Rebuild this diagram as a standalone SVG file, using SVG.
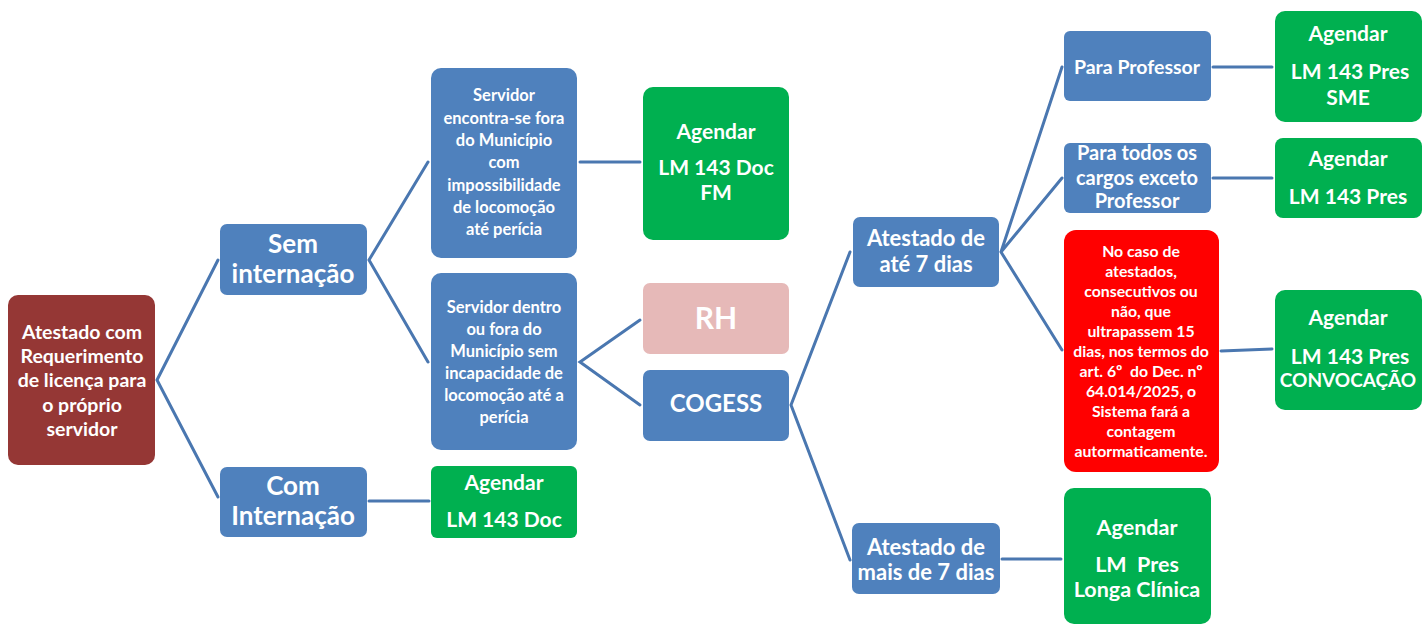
<svg xmlns="http://www.w3.org/2000/svg" width="1427" height="624" viewBox="0 0 1427 624">
<style>
.b{fill:#4f81bd}
.g{fill:#00b050}
.t{font-family:Lato,"Liberation Sans",sans-serif;font-weight:bold;fill:#fff;text-anchor:middle;white-space:pre}
.c{stroke:#4a77b0;stroke-width:3;fill:none;stroke-linecap:round}
</style>
<rect width="1427" height="624" fill="#fff"/>
<g id="connectors">
<polyline class="c" points="218,260 157,380 218,497"/>
<polyline class="c" points="428,162 369,260 428,362"/>
<line class="c" x1="369" y1="501" x2="429" y2="501"/>
<line class="c" x1="580" y1="162" x2="640" y2="162"/>
<polyline class="c" points="640,320 580,362 640,405"/>
<polyline class="c" points="850,252 791,405 850,560"/>
<polyline class="c" points="1062,67 1001,252 1062,178"/>
<line class="c" x1="1001" y1="252" x2="1062" y2="350"/>
<line class="c" x1="1213" y1="67" x2="1272" y2="67"/>
<line class="c" x1="1213" y1="178" x2="1272" y2="178"/>
<line class="c" x1="1221" y1="351" x2="1272" y2="349"/>
<line class="c" x1="1002" y1="559" x2="1061" y2="559"/>
</g>
<g id="root">
<rect x="8" y="295" width="147" height="170" rx="10" fill="#953735"/>
<text class="t" font-size="19.5"><tspan x="82" y="339">Atestado com</tspan><tspan x="82" y="363">Requerimento</tspan><tspan x="82" y="387">de licença para</tspan><tspan x="82" y="412">o próprio</tspan><tspan x="82" y="436">servidor</tspan></text>
</g>
<g id="sem">
<rect class="b" x="220" y="224" width="147" height="71" rx="7"/>
<text class="t" font-size="26"><tspan x="293" y="253">Sem</tspan><tspan x="293" y="283">internação</tspan></text>
</g>
<g id="com">
<rect class="b" x="220" y="467" width="147" height="70" rx="7"/>
<text class="t" font-size="26"><tspan x="293" y="495">Com</tspan><tspan x="293" y="525">Internação</tspan></text>
</g>
<g id="fora">
<rect class="b" x="431" y="68" width="146" height="190" rx="10"/>
<text class="t" font-size="16.5"><tspan x="504" y="101">Servidor</tspan><tspan x="504" y="124">encontra-se fora</tspan><tspan x="504" y="146">do Município</tspan><tspan x="504" y="168">com</tspan><tspan x="504" y="191">impossibilidade</tspan><tspan x="504" y="213">de locomoção</tspan><tspan x="504" y="235">até perícia</tspan></text>
</g>
<g id="dentro">
<rect class="b" x="431" y="273" width="146" height="177" rx="10"/>
<text class="t" font-size="16.5"><tspan x="504" y="313">Servidor dentro</tspan><tspan x="504" y="335">ou fora do</tspan><tspan x="504" y="357">Município sem</tspan><tspan x="504" y="379">incapacidade de</tspan><tspan x="504" y="401">locomoção até a</tspan><tspan x="504" y="423">perícia</tspan></text>
</g>
<g id="agfm">
<rect class="g" x="643" y="87" width="146" height="153" rx="10"/>
<text class="t" font-size="21"><tspan x="716" y="139">Agendar</tspan><tspan x="716" y="175">LM 143 Doc</tspan><tspan x="716" y="200">FM</tspan></text>
</g>
<g id="rh">
<rect x="643" y="283" width="146" height="71" rx="7" fill="#e6b9b8"/>
<text class="t" font-size="30" x="716" y="329">RH</text>
</g>
<g id="cogess">
<rect class="b" x="643" y="370" width="146" height="71" rx="7"/>
<text class="t" font-size="24" x="716" y="412">COGESS</text>
</g>
<g id="agdoc">
<rect class="g" x="431" y="466" width="146" height="72" rx="6"/>
<text class="t" font-size="21"><tspan x="504" y="490">Agendar</tspan><tspan x="504" y="527">LM 143 Doc</tspan></text>
</g>
<g id="ate7">
<rect class="b" x="853" y="217" width="146" height="70" rx="7"/>
<text class="t" font-size="22"><tspan x="926" y="246">Atestado de</tspan><tspan x="926" y="272">até 7 dias</tspan></text>
</g>
<g id="mais7">
<rect class="b" x="852" y="523" width="148" height="71" rx="7"/>
<text class="t" font-size="22"><tspan x="926" y="555">Atestado de</tspan><tspan x="926" y="580">mais de 7 dias</tspan></text>
</g>
<g id="prof">
<rect class="b" x="1064" y="31" width="147" height="70" rx="6"/>
<text class="t" font-size="19.5" x="1137" y="74">Para Professor</text>
</g>
<g id="todos">
<rect class="b" x="1064" y="143" width="147" height="70" rx="6"/>
<text class="t" font-size="20"><tspan x="1137" y="160">Para todos os</tspan><tspan x="1137" y="185">cargos exceto</tspan><tspan x="1137" y="208">Professor</tspan></text>
</g>
<g id="red">
<rect x="1064" y="230" width="155" height="242" rx="12" fill="#ff0000"/>
<text class="t" font-size="15.8"><tspan x="1141" y="257">No caso de</tspan><tspan x="1141" y="277">atestados,</tspan><tspan x="1141" y="297">consecutivos ou</tspan><tspan x="1141" y="317">não, que</tspan><tspan x="1141" y="337">ultrapassem 15</tspan><tspan x="1141" y="357">dias, nos termos do</tspan><tspan x="1141" y="377">art. 6º  do Dec. nº</tspan><tspan x="1141" y="397">64.014/2025, o</tspan><tspan x="1141" y="417">Sistema fará a</tspan><tspan x="1141" y="437">contagem</tspan><tspan x="1141" y="457">autormaticamente.</tspan></text>
</g>
<g id="sme">
<rect class="g" x="1275" y="11" width="147" height="111" rx="10"/>
<text class="t" font-size="21"><tspan x="1348" y="41">Agendar</tspan><tspan x="1350" y="79">LM 143 Pres</tspan><tspan x="1348" y="105">SME</tspan></text>
</g>
<g id="pres">
<rect class="g" x="1275" y="138" width="147" height="80" rx="8"/>
<text class="t" font-size="21"><tspan x="1348" y="166">Agendar</tspan><tspan x="1348" y="204">LM 143 Pres</tspan></text>
</g>
<g id="conv">
<rect class="g" x="1275" y="290" width="147" height="120" rx="10"/>
<text class="t" font-size="21"><tspan x="1348" y="325">Agendar</tspan><tspan x="1350" y="364">LM 143 Pres</tspan><tspan x="1348" y="387" font-size="19">CONVOCAÇÃO</tspan></text>
</g>
<g id="longa">
<rect class="g" x="1064" y="488" width="147" height="136" rx="10"/>
<text class="t" font-size="21.5"><tspan x="1137" y="535">Agendar</tspan><tspan x="1137" y="572">LM  Pres</tspan><tspan x="1137" y="597">Longa Clínica</tspan></text>
</g>
</svg>
